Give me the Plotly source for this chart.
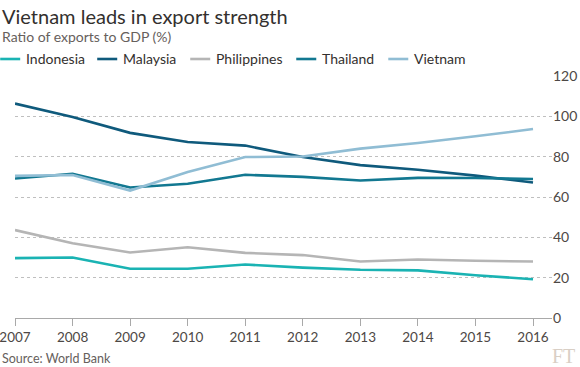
import plotly.graph_objects as go

years = [2007, 2008, 2009, 2010, 2011, 2012, 2013, 2014, 2015, 2016]
indonesia = [29.7, 30.0, 24.4, 24.4, 26.5, 25.0, 23.9, 23.6, 21.2, 19.2]
malaysia = [106.3, 99.7, 91.8, 87.3, 85.5, 79.8, 75.8, 73.5, 70.6, 67.2]
philippines = [43.6, 37.1, 32.5, 35.1, 32.3, 31.2, 28.0, 29.0, 28.4, 28.0]
thailand = [69.2, 71.5, 64.7, 66.6, 71.0, 70.0, 68.2, 69.5, 69.4, 68.9]
vietnam = [70.5, 70.9, 63.2, 72.4, 79.8, 80.1, 84.0, 86.8, 90.1, 93.7]

names = ["Indonesia", "Malaysia", "Philippines", "Thailand", "Vietnam"]
series = [indonesia, malaysia, philippines, thailand, vietnam]
colors = ["#1ab3b3", "#0f5a7c", "#b5b5b5", "#127891", "#90bdd4"]
ytick_vals = [0, 20, 40, 60, 80, 100, 120]

FONT = "Lato"
W, H = 580, 367
PL, PR, PT, PB = 14.8, 551.7, 76, 318


def px(x):
    return (x - PL) / (PR - PL)


def py(y):
    return (PB - y) / (PB - PT)


fig = go.Figure()
for name, vals, col in zip(names, series, colors):
    fig.add_trace(go.Scatter(x=years, y=vals, name=name, mode="lines",
                             line=dict(color=col, width=2.6),
                             showlegend=False, cliponaxis=False))

# custom legend
leg_x = [0, 97, 190, 296, 388]
shapes = []
annotations = []
for name, col, lx in zip(names, colors, leg_x):
    shapes.append(dict(type="line", xref="paper", yref="paper",
                       x0=px(lx), x1=px(lx + 20), y0=py(59), y1=py(59),
                       line=dict(color=col, width=2.6)))
    annotations.append(dict(text=name, xref="paper", yref="paper",
                            x=px(lx + 24), y=py(59),
                            xanchor="left", yanchor="middle", showarrow=False,
                            font=dict(family=FONT, size=14, color="#33302e")))

annotations += [
    dict(text="Vietnam leads in export strength", xref="paper", yref="paper",
         x=px(0), y=py(16), xanchor="left", yanchor="middle",
         showarrow=False, font=dict(family=FONT, size=20, color="#33302e")),
    dict(text="Ratio of exports to GDP (%)", xref="paper", yref="paper",
         x=px(0), y=py(37), xanchor="left", yanchor="middle",
         showarrow=False, font=dict(family=FONT, size=14, color="#66605c")),
    dict(text="Source: World Bank", xref="paper", yref="paper",
         x=px(0), y=py(358), xanchor="left", yanchor="middle",
         showarrow=False, font=dict(family=FONT, size=12.5, color="#66605c")),
    dict(text="FT", xref="paper", yref="paper",
         x=px(577), y=py(356), xanchor="right", yanchor="middle",
         showarrow=False, font=dict(family="Liberation Serif", size=20, color="#d9cfc5")),
]

fig.update_layout(
    width=W, height=H,
    margin=dict(l=PL, r=W - PR, t=PT, b=H - PB, autoexpand=False),
    paper_bgcolor="white", plot_bgcolor="white",
    shapes=shapes, annotations=annotations,
    xaxis=dict(range=[2007, 2016.33], tickvals=years, ticktext=[str(y) for y in years],
               automargin=False, ticklabeloverflow="allow",
               showgrid=False, zeroline=False, showline=True, linecolor="#a9a9a9", linewidth=1,
               ticks="outside", ticklen=7, tickcolor="#a9a9a9", tickwidth=1,
               tickfont=dict(family=FONT, size=13.5, color="#4d4845")),
    yaxis=dict(range=[0, 120], tickvals=ytick_vals, side="right", automargin=False,
               ticklabeloverflow="allow",
               showgrid=True, gridcolor="#bfbfbf", griddash="dot", gridwidth=1,
               zeroline=False, showline=False, ticks="",
               tickfont=dict(family=FONT, size=14, color="#4d4845")),
)

fig.write_html("out.html", config={"displayModeBar": False},
               post_script="document.body.style.margin='0';document.body.style.padding='0';")
